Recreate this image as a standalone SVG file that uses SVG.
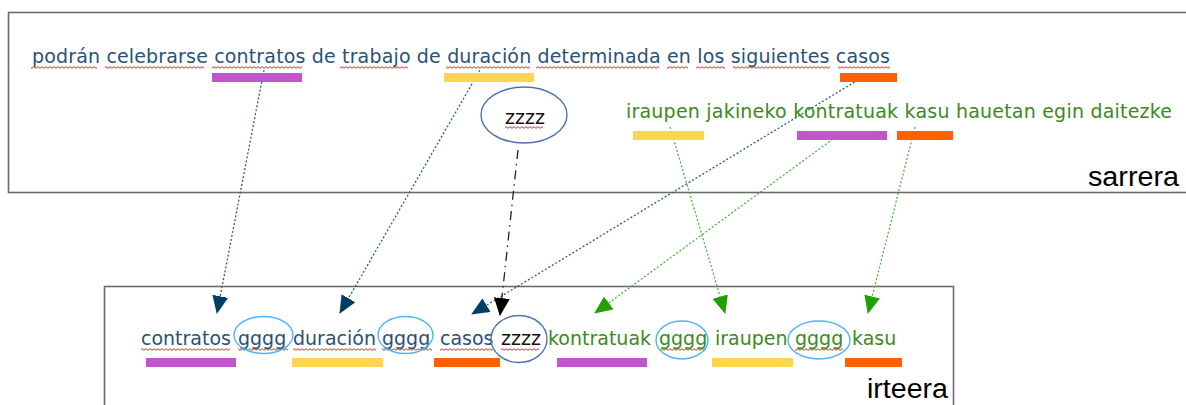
<svg xmlns="http://www.w3.org/2000/svg" width="1186" height="405" viewBox="0 0 1186 405">
  <style>
    .frame { fill: none; stroke: #6b6b6b; stroke-width: 1.6; }
    .es { font-family: "DejaVu Sans", sans-serif; font-size: 19px; fill: #2a5275; }
    .eu { font-family: "DejaVu Sans", sans-serif; font-size: 19px; fill: #3b8a1e; }
    .zz { font-family: "DejaVu Sans", sans-serif; font-size: 19px; fill: #111111; }
    .lbl { font-family: "Liberation Sans", Arial, sans-serif; font-size: 27px; fill: #000000; }
    .purple { fill: #c055cc; }
    .yellow { fill: #ffd54f; }
    .orange { fill: #ff6000; }
    .wave { fill: url(#wavy); }
    .ring { fill: none; stroke: #4db5f5; stroke-width: 1.4; }
    .ringz { fill: none; stroke: #4f74ad; stroke-width: 1.4; }
    .c-blue { fill: none; stroke: #2a5e80; stroke-width: 1.3; stroke-dasharray: 2 2; }
    .c-green { fill: none; stroke: #45b83a; stroke-width: 1.3; stroke-dasharray: 2 2; }
    .c-black { fill: none; stroke: #222222; stroke-width: 1.3; stroke-dasharray: 9 5 1.5 5; }
  </style>
  <defs>
    <pattern id="wavy" patternUnits="userSpaceOnUse" width="4" height="3">
      <path d="M0 2.3 L2 0.7 L4 2.3" fill="none" stroke="#e01010" stroke-width="0.9"/>
    </pattern>
    <marker id="ah-blue" markerUnits="userSpaceOnUse" markerWidth="18" markerHeight="16" viewBox="0 0 18 16" refX="17" refY="8" orient="auto">
      <path d="M0 0 L18 8 L0 16 Z" fill="#003f63"/>
    </marker>
    <marker id="ah-green" markerUnits="userSpaceOnUse" markerWidth="18" markerHeight="16" viewBox="0 0 18 16" refX="17" refY="8" orient="auto">
      <path d="M0 0 L18 8 L0 16 Z" fill="#22a000"/>
    </marker>
    <marker id="ah-black" markerUnits="userSpaceOnUse" markerWidth="18" markerHeight="16" viewBox="0 0 18 16" refX="17" refY="8" orient="auto">
      <path d="M0 0 L18 8 L0 16 Z" fill="#000000"/>
    </marker>
  </defs>

  <!-- input panel -->
  <g id="sarrera">
    <rect class="frame" x="8.5" y="12.5" width="1200" height="180"/>
    <text class="lbl" x="1088" y="186" textLength="91" lengthAdjust="spacingAndGlyphs">sarrera</text>
  </g>

  <!-- output panel -->
  <g id="irteera">
    <rect class="frame" x="104.5" y="286.5" width="849" height="200"/>
    <text class="lbl" x="867" y="398" textLength="81" lengthAdjust="spacingAndGlyphs">irteera</text>
  </g>

  <!-- connectors -->
  <g id="connectors">
    <line class="c-blue" x1="264" y1="70" x2="217" y2="313" marker-end="url(#ah-blue)"/>
    <line class="c-blue" x1="480" y1="70" x2="340" y2="313" marker-end="url(#ah-blue)"/>
    <line class="c-blue" x1="858" y1="80" x2="472" y2="314" marker-end="url(#ah-blue)"/>
    <line class="c-black" x1="518" y1="150" x2="500" y2="315" marker-end="url(#ah-black)"/>
    <line class="c-green" x1="670" y1="127" x2="725" y2="313" marker-end="url(#ah-green)"/>
    <line class="c-green" x1="833" y1="139" x2="595" y2="313" marker-end="url(#ah-green)"/>
    <line class="c-green" x1="915" y1="127" x2="868" y2="313" marker-end="url(#ah-green)"/>
  </g>

  <!-- source sentence -->
  <g id="source-es">
    <rect class="wave" x="31" y="66" width="66" height="3"/>
    <rect class="wave" x="105" y="66" width="99" height="3"/>
    <rect class="wave" x="212" y="66" width="90" height="3"/>
    <rect class="wave" x="340" y="66" width="68" height="3"/>
    <rect class="wave" x="446" y="66" width="84" height="3"/>
    <rect class="wave" x="536" y="66" width="123" height="3"/>
    <rect class="wave" x="667" y="66" width="21" height="3"/>
    <rect class="wave" x="696" y="66" width="29" height="3"/>
    <rect class="wave" x="733" y="66" width="97" height="3"/>
    <rect class="wave" x="838" y="66" width="52" height="3"/>
    <text class="es" x="32" y="63" textLength="858" lengthAdjust="spacing">podrán celebrarse contratos de trabajo de duración determinada en los siguientes casos</text>
    <rect class="purple" x="212" y="73" width="90" height="9"/>
    <rect class="yellow" x="444" y="73" width="90" height="9"/>
    <rect class="orange" x="840" y="73" width="57" height="9"/>
  </g>

  <g id="source-zzzz">
    <ellipse class="ringz" cx="524" cy="115" rx="43" ry="28"/>
    <rect class="wave" x="505" y="126" width="38" height="3"/>
    <text class="zz" x="505" y="124">zzzz</text>
  </g>

  <g id="source-eu">
    <text class="eu" x="626" y="118" textLength="546" lengthAdjust="spacing">iraupen jakineko kontratuak kasu hauetan egin daitezke</text>
    <rect class="yellow" x="633" y="131" width="71" height="9"/>
    <rect class="purple" x="797" y="131" width="90" height="9"/>
    <rect class="orange" x="897" y="131" width="56" height="9"/>
  </g>

  <!-- output sequence -->
  <g id="out-contratos">
    <rect class="wave" x="141" y="348" width="89" height="3"/>
    <text class="es" x="141" y="345">contratos</text>
    <rect class="purple" x="146" y="358" width="90" height="9"/>
  </g>
  <g id="out-gggg-1">
    <rect class="wave" x="238" y="348" width="50" height="3"/>
    <text class="es" x="238" y="345">gggg</text>
    <ellipse class="ring" cx="263.5" cy="335" rx="29.5" ry="18.5"/>
  </g>
  <g id="out-duracion">
    <rect class="wave" x="293" y="348" width="83" height="3"/>
    <text class="es" x="293" y="345">duración</text>
    <rect class="yellow" x="292" y="358" width="91" height="9"/>
  </g>
  <g id="out-gggg-2">
    <rect class="wave" x="382" y="348" width="50" height="3"/>
    <text class="es" x="382" y="345">gggg</text>
    <ellipse class="ring" cx="405.5" cy="335" rx="27.5" ry="18.5"/>
  </g>
  <g id="out-casos">
    <rect class="wave" x="440" y="348" width="53" height="3"/>
    <text class="es" x="440" y="345">casos</text>
    <rect class="orange" x="434" y="358" width="66" height="9"/>
  </g>
  <g id="out-zzzz">
    <rect class="wave" x="501" y="348" width="38" height="3"/>
    <text class="zz" x="501" y="345">zzzz</text>
    <ellipse class="ringz" cx="519" cy="339" rx="28" ry="23.5"/>
  </g>
  <g id="out-kontratuak">
    <text class="eu" x="548" y="345">kontratuak</text>
    <rect class="purple" x="557" y="358" width="90" height="9"/>
  </g>
  <g id="out-gggg-3">
    <rect class="wave" x="660" y="348" width="46" height="3"/>
    <text class="eu" x="659" y="345">gggg</text>
    <ellipse class="ring" cx="682" cy="340" rx="26" ry="19"/>
  </g>
  <g id="out-iraupen">
    <text class="eu" x="715" y="345">iraupen</text>
    <rect class="yellow" x="712" y="358" width="81" height="9"/>
  </g>
  <g id="out-gggg-4">
    <rect class="wave" x="795" y="348" width="48" height="3"/>
    <text class="eu" x="795" y="345">gggg</text>
    <ellipse class="ring" cx="819" cy="340" rx="31" ry="19"/>
  </g>
  <g id="out-kasu">
    <text class="eu" x="852" y="345">kasu</text>
    <rect class="orange" x="845" y="358" width="57" height="9"/>
  </g>
</svg>
